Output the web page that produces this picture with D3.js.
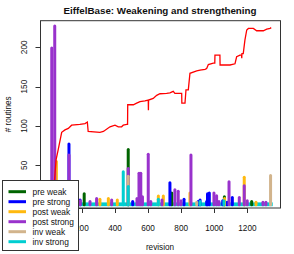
<!DOCTYPE html>
<html>
<head>
<meta charset="utf-8">
<script src="https://cdn.jsdelivr.net/npm/d3@7"></script>
<style>
  body { margin: 0; background: #fff; }
  svg text { font-family: "Liberation Sans", Arial, sans-serif; fill: #111; }
</style>
</head>
<body>
<div id="chart"></div>
<script>
// number of routines per revision (red line)
const routines = [
  [1, 12], [30, 20], [38, 40], [44, 57], [57, 70], [78, 92], [98, 95], [118, 97],
  [138, 101], [188, 102], [219, 103], [233, 105], [238, 93], [309, 92], [330, 93],
  [370, 99], [400, 101], [420, 99], [440, 99], [450, 101], [471, 102], [476, 102],
  [477, 127], [511, 127], [531, 129], [551, 131], [581, 132], [601, 133], [602, 120],
  [603, 133], [631, 135], [652, 139], [672, 141], [712, 141.5], [732, 142], [752, 144],
  [762, 141.5], [803, 141.5], [804, 129], [823, 129], [829, 146], [843, 146], [853, 167],
  [894, 170], [914, 171], [944, 172], [954, 173], [964, 178], [994, 180], [1003, 180],
  [1004, 190], [1034, 190], [1035, 177.5], [1095, 177.5], [1125, 179], [1135, 188],
  [1155, 190], [1165, 190], [1166, 186], [1167, 192], [1175, 192], [1185, 209],
  [1196, 222], [1206, 224], [1236, 224], [1256, 221], [1296, 221], [1317, 223],
  [1337, 224], [1344, 225]
];

// spikes per series: [revision, count]
const preWeak = [[214, 14], [480, 70], [743, 15], [1061, 10], [1226, 4]];
const preStrong = [
  [122, 77], [189, 6], [507, 4], [732, 28], [817, 7], [903, 4], [914, 6], [954, 4],
  [959, 14], [970, 15], [1051, 5], [1077, 3], [1109, 9]
];
const postWeak = [
  [46, 55], [309, 7], [360, 8], [414, 6], [662, 11], [692, 11], [853, 15], [1062, 8],
  [1181, 35], [1252, 3]
];
const postStrong = [
  [18, 199], [36, 227], [122, 63], [190, 5], [249, 4], [289, 8], [380, 6], [480, 46],
  [533, 8], [545, 40], [556, 40], [566, 10], [601, 64], [616, 4], [684, 6], [762, 19],
  [782, 17], [799, 5], [859, 63], [998, 15], [1014, 11.5], [1028, 4], [1089, 29],
  [1151, 9], [1181, 24], [1199, 5], [1294, 3], [1312, 3]
];
const invWeak = [[480, 36], [894, 3], [1340, 37]];
const invStrong = [[450, 42], [480, 23], [662, 7], [914, 4], [1058, 5]];
// inv strong count that holds over a whole range of revisions: [from, to, count]
const invStrongRuns = [[1, 1344, 1]];

const seriesNames = ["pre weak", "pre strong", "post weak", "post strong", "inv weak", "inv strong"];
const seriesColors = ["#006400", "#0000ff", "#ffb90f", "#9932cc", "#d2b48c", "#00ced1"];
const seriesData = [preWeak, preStrong, postWeak, postStrong, invWeak, invStrong];

const xTicks = [0, 200, 400, 600, 800, 1000, 1200];
const yTicks = [0, 50, 100, 150, 200];

let w = 294;
let h = 254;
let plotLeft = 40;
let plotRight = 280;
let plotTop = 20.7;
let plotBottom = 208;
let barWidth = 3;

let x = d3.scaleLinear().domain([-53, 1397]).range([plotLeft, plotRight]);
let y = d3.scaleLinear().domain([-4.2, 233.8]).range([plotBottom, plotTop]);

let svg = d3
  .select("#chart")
  .append("svg")
  .attr("width", w)
  .attr("height", h);

svg.append("rect").attr("width", w).attr("height", h).attr("fill", "#fff");

// runs of inverse strong drawn like a row of thick spikes
svg
  .append("g")
  .selectAll("rect")
  .data(invStrongRuns)
  .enter()
  .append("rect")
  .attr("x", (d) => x(d[0]) - barWidth / 2)
  .attr("width", (d) => x(d[1]) - x(d[0]) + barWidth)
  .attr("y", (d) => y(d[2]) - barWidth / 2)
  .attr("height", (d) => y(0) - y(d[2]) + barWidth)
  .attr("fill", seriesColors[5]);

// spikes, series in legend order so later ones sit on top
seriesData.forEach(function (data, i) {
  svg
    .append("g")
    .selectAll("line")
    .data(data)
    .enter()
    .append("line")
    .attr("x1", (d) => x(d[0]))
    .attr("x2", (d) => x(d[0]))
    .attr("y1", y(0))
    .attr("y2", (d) => y(d[1]))
    .attr("stroke", seriesColors[i])
    .attr("stroke-width", barWidth)
    .attr("stroke-linecap", "round");
});

svg
  .append("path")
  .datum(routines)
  .attr("fill", "none")
  .attr("stroke", "#ff0000")
  .attr("stroke-width", 1.3)
  .attr("d", d3.line().x((d) => x(d[0])).y((d) => y(d[1])));

// plot box
svg
  .append("rect")
  .attr("x", plotLeft + 0.5)
  .attr("y", plotTop)
  .attr("width", plotRight - plotLeft)
  .attr("height", plotBottom - plotTop)
  .attr("fill", "none")
  .attr("stroke", "#333");

// x axis (the 0 labels sit under the legend, so only the visible ones get text)
let xAxis = svg.append("g");
xAxis
  .append("line")
  .attr("x1", x(xTicks[0]))
  .attr("x2", x(xTicks[xTicks.length - 1]))
  .attr("y1", plotBottom + 0.5)
  .attr("y2", plotBottom + 0.5)
  .attr("stroke", "#333");
xAxis
  .selectAll(".tick")
  .data(xTicks)
  .enter()
  .append("line")
  .attr("x1", (d) => Math.round(x(d)) + 0.5)
  .attr("x2", (d) => Math.round(x(d)) + 0.5)
  .attr("y1", plotBottom)
  .attr("y2", plotBottom + 5)
  .attr("stroke", "#333");
xAxis
  .selectAll("text")
  .data(xTicks.filter((d) => d > 0))
  .enter()
  .append("text")
  .attr("x", (d) => x(d))
  .attr("y", 231)
  .attr("text-anchor", "middle")
  .attr("font-size", "8.2px")
  .text((d) => d);

// y axis
let yAxis = svg.append("g");
yAxis
  .append("line")
  .attr("x1", plotLeft + 0.5)
  .attr("x2", plotLeft + 0.5)
  .attr("y1", y(yTicks[0]))
  .attr("y2", y(yTicks[yTicks.length - 1]))
  .attr("stroke", "#333");
yAxis
  .selectAll(".tick")
  .data(yTicks)
  .enter()
  .append("line")
  .attr("x1", plotLeft - 4.5)
  .attr("x2", plotLeft)
  .attr("y1", (d) => Math.round(y(d)) + 0.5)
  .attr("y2", (d) => Math.round(y(d)) + 0.5)
  .attr("stroke", "#333");
yAxis
  .selectAll("text")
  .data(yTicks.filter((d) => d > 0))
  .enter()
  .append("text")
  .attr("transform", (d) => `translate(27,${y(d)}) rotate(-90)`)
  .attr("text-anchor", "middle")
  .attr("font-size", "8.2px")
  .text((d) => d);

svg
  .append("text")
  .attr("x", (plotLeft + plotRight) / 2)
  .attr("y", 250)
  .attr("text-anchor", "middle")
  .attr("font-size", "8.2px")
  .text("revision");

svg
  .append("text")
  .attr("transform", `translate(10.5,${(plotTop + plotBottom) / 2}) rotate(-90)`)
  .attr("text-anchor", "middle")
  .attr("font-size", "8.2px")
  .text("# routines");

svg
  .append("text")
  .attr("x", (plotLeft + plotRight) / 2)
  .attr("y", 14.3)
  .attr("text-anchor", "middle")
  .attr("font-size", "9.8px")
  .attr("font-weight", "bold")
  .text("EiffelBase: Weakening and strengthening");

// legend
let legend = svg.append("g");
legend
  .append("rect")
  .attr("x", 2.5)
  .attr("y", 180.5)
  .attr("width", 76)
  .attr("height", 70)
  .attr("fill", "#fff")
  .attr("stroke", "#333");

let item = legend
  .selectAll(".item")
  .data(seriesNames)
  .enter()
  .append("g")
  .attr("transform", (d, i) => `translate(0,${191.7 + i * 10})`);

item
  .append("line")
  .attr("x1", 8.5)
  .attr("x2", 26)
  .attr("stroke", (d, i) => seriesColors[i])
  .attr("stroke-width", 3);

item
  .append("text")
  .attr("x", 32.5)
  .attr("dy", "0.35em")
  .attr("font-size", "8.4px")
  .text((d) => d);
</script>
</body>
</html>
